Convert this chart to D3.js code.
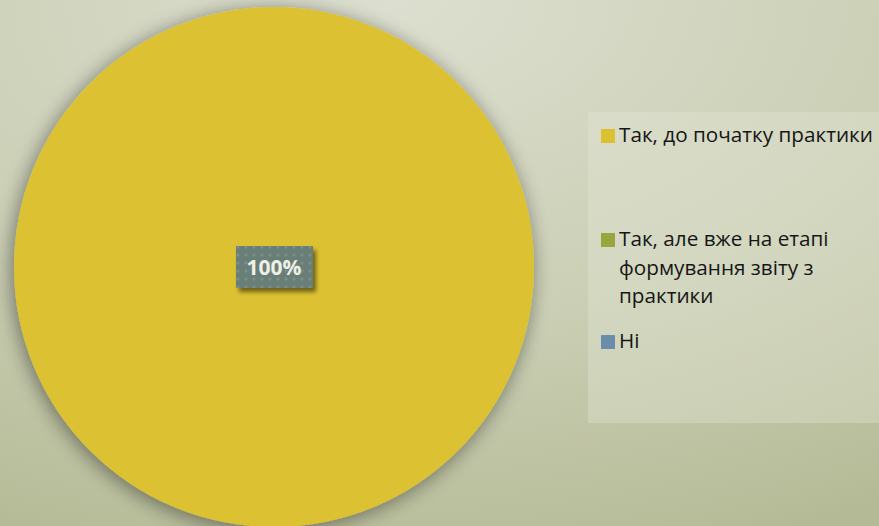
<!DOCTYPE html>
<html>
<head>
<meta charset="utf-8">
<script src="https://cdn.jsdelivr.net/npm/d3@7"></script>
<style>
  html, body { margin:0; padding:0; }
  body { width:879px; height:526px; overflow:hidden; }
  svg { display:block; }
</style>
</head>
<body>
<svg id="chart" width="879" height="526"></svg>
<script>
// data
const categories = ['Так, до початку практики', 'Так, але вже на етапі формування звіту з практики', 'Ні'];
const values     = [100, 0, 0];
const colors     = ['#dcc232', '#98a63e', '#6a8dab'];

const W = 879, H = 526;
const svg = d3.select('#chart');
const defs = svg.append('defs');

// background gradient
const bg = defs.append('radialGradient').attr('id', 'bg')
  .attr('cx', '45%').attr('cy', '0%').attr('r', '110%');
bg.append('stop').attr('offset', '0%').attr('stop-color', '#dcdfcf');
bg.append('stop').attr('offset', '55%').attr('stop-color', '#cbcfb5');
bg.append('stop').attr('offset', '100%').attr('stop-color', '#b5ba96');
svg.append('rect').attr('width', W).attr('height', H).attr('fill', 'url(#bg)');

// soft shadow
const sh = defs.append('filter').attr('id', 'shadow')
  .attr('x', '-20%').attr('y', '-20%').attr('width', '140%').attr('height', '140%');
sh.append('feGaussianBlur').attr('in', 'SourceAlpha').attr('stdDeviation', 10);
sh.append('feOffset').attr('dx', -2).attr('dy', 3).attr('result', 'b');
sh.append('feComponentTransfer').append('feFuncA').attr('type', 'linear').attr('slope', 0.45);
const m = sh.append('feMerge');
m.append('feMergeNode');
m.append('feMergeNode').attr('in', 'SourceGraphic');

const lsh = defs.append('filter').attr('id', 'lshadow')
  .attr('x', '-30%').attr('y', '-30%').attr('width', '160%').attr('height', '170%');
lsh.append('feGaussianBlur').attr('in', 'SourceAlpha').attr('stdDeviation', 2);
lsh.append('feOffset').attr('dx', 3).attr('dy', 4);
lsh.append('feComponentTransfer').append('feFuncA').attr('type', 'linear').attr('slope', 0.5);
const lm = lsh.append('feMerge');
lm.append('feMergeNode');
lm.append('feMergeNode').attr('in', 'SourceGraphic');

// dotted pattern for label
const pat = defs.append('pattern').attr('id', 'dots')
  .attr('width', 8).attr('height', 8).attr('patternUnits', 'userSpaceOnUse');
pat.append('rect').attr('width', 8).attr('height', 8).attr('fill', '#6a7e78');
pat.append('circle').attr('cx', 4).attr('cy', 4).attr('r', 1.6).attr('fill', '#7a8f89');

// legend panel
svg.append('rect').attr('x', 588).attr('y', 112).attr('width', 291).attr('height', 311)
  .attr('fill', '#e6e8d8').attr('opacity', 0.35);

// pie
const cx = 274, cy = 267, R = 260;
const pie = d3.pie().value(d => d.v).sort(null);
const arc = d3.arc().innerRadius(0).outerRadius(R);
const rows = categories.map((c, i) => ({ c, v: values[i], col: colors[i] }));

const g = svg.append('g').attr('transform', 'translate(' + cx + ',' + cy + ')');
g.selectAll('path').data(pie(rows)).enter().append('path')
  .attr('d', arc).attr('fill', d => d.data.col)
  .attr('filter', 'url(#shadow)');

// data label
const labelArc = d3.arc().innerRadius(0).outerRadius(0);
pie(rows).filter(d => d.data.v > 0).forEach(d => {
  const [lx, ly] = labelArc.centroid(d);
  const lg = g.append('g').attr('transform', 'translate(' + lx + ',' + ly + ')');
  lg.append('rect').attr('x', -38).attr('y', -21).attr('width', 77).attr('height', 42)
    .attr('fill', 'url(#dots)').attr('filter', 'url(#lshadow)');
  lg.append('text').attr('text-anchor', 'middle').attr('y', 8)
    .attr('font-family', 'Open Sans, sans-serif').attr('font-weight', 'bold')
    .attr('font-size', 21).attr('fill', '#eef0e6')
    .text(d3.format('.0%')(d.data.v / d3.sum(values)));
});

// legend
const legBase = [142, 246, 348];
const lineH = 28.5;
const fs = 20.7;
const font = '"Open Sans", sans-serif';
function wrap(text, maxW, size) {
  const ctx = document.createElement('canvas').getContext('2d');
  ctx.font = size + 'px ' + font;
  const words = text.split(' ');
  const lines = [];
  let cur = '';
  words.forEach(w => {
    const t = cur ? cur + ' ' + w : w;
    if (ctx.measureText(t).width > maxW && cur) { lines.push(cur); cur = w; }
    else cur = t;
  });
  lines.push(cur);
  return lines;
}
rows.forEach((r, i) => {
  const y = legBase[i];
  svg.append('rect').attr('x', 601).attr('y', y - 13).attr('width', 14).attr('height', 14).attr('fill', r.col);
  const lines = i === 0 ? [r.c] : wrap(r.c, 250, fs);
  const t = svg.append('text').attr('x', 619).attr('y', y)
    .attr('font-family', font).attr('font-size', fs).attr('fill', '#161616');
  lines.forEach((ln, k) => {
    t.append('tspan').attr('x', 619).attr('dy', k ? lineH : 0).text(ln);
  });
});
</script>
</body>
</html>
